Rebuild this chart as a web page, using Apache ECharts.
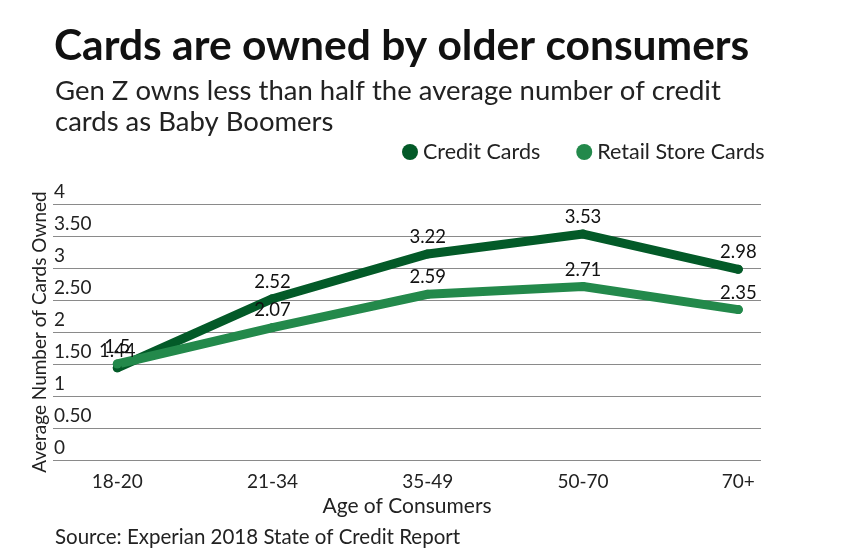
<!DOCTYPE html>
<html>
<head>
<meta charset="utf-8">
<script src="https://cdn.jsdelivr.net/npm/echarts@6/dist/echarts.min.js"></script>
<style>
html,body{margin:0;padding:0;background:#fff;}
#chart{width:844px;height:550px;}
</style>
</head>
<body>
<div id="chart"></div>
<script>
var categories = ['18-20', '21-34', '35-49', '50-70', '70+'];
var creditCards = [1.44, 2.52, 3.22, 3.53, 2.98];
var retailStoreCards = [1.5, 2.07, 2.59, 2.71, 2.35];
var yTickLabels = ['0', '0.50', '1', '1.50', '2', '2.50', '3', '3.50', '4'];

var FONT = 'Lato';
function toPairs(arr) { return arr.map(function (v, i) { return [i, v]; }); }

var chart = echarts.init(document.getElementById('chart'));
chart.setOption({
  backgroundColor: '#ffffff',
  animation: false,
  textStyle: { fontFamily: FONT },
  title: [
    { text: 'Cards are owned by older consumers', left: 49, top: 20,
      textStyle: { fontFamily: FONT, fontSize: 42.5, fontWeight: 'bold', color: '#111' } },
    { text: 'Gen Z owns less than half the average number of credit\ncards as Baby Boomers', left: 50, top: 71,
      textStyle: { fontFamily: FONT, fontSize: 27.5, fontWeight: 'normal', color: '#222', lineHeight: 31 } },
    { text: 'Source: Experian 2018 State of Credit Report', left: 50, top: 522,
      textStyle: { fontFamily: FONT, fontSize: 20.5, fontWeight: 'normal', color: '#222' } }
  ],
  legend: {
    left: 397, top: 136, icon: 'circle', itemWidth: 16, itemHeight: 16, itemGap: 36,
    textStyle: { fontFamily: FONT, fontSize: 21.5, color: '#222' },
    data: ['Credit Cards', 'Retail Store Cards']
  },
  grid: { left: 53, right: 83, top: 204, bottom: 90, containLabel: false },
  xAxis: {
    type: 'value', min: -0.414, max: 4.146,
    name: 'Age of Consumers', nameLocation: 'middle', nameGap: 36,
    nameTextStyle: { fontFamily: FONT, fontSize: 21, color: '#222' },
    axisLine: { show: false }, axisTick: { show: false }, splitLine: { show: false },
    axisLabel: {
      customValues: [0, 1, 2, 3, 4], margin: 12,
      fontFamily: FONT, fontSize: 19, color: '#222',
      formatter: function (v) { return categories[Math.round(v)]; }
    }
  },
  yAxis: {
    type: 'value', min: 0, max: 4, interval: 0.5,
    name: 'Average Number of Cards Owned', nameLocation: 'middle', nameRotate: 90, nameGap: 4,
    nameMoveOverlap: false,
    nameTextStyle: { fontFamily: FONT, fontSize: 19, color: '#222' },
    axisLine: { show: false }, axisTick: { show: false },
    splitLine: { lineStyle: { color: '#8a8a8a', width: 1 } },
    axisLabel: {
      inside: true, margin: 1, verticalAlign: 'bottom', align: 'left',
      padding: [0, 0, 3, 0],
      fontFamily: FONT, fontSize: 19, color: '#222',
      formatter: function (v) { return yTickLabels[Math.round(v / 0.5)]; }
    }
  },
  series: [
    { name: 'Credit Cards', type: 'line', data: toPairs(creditCards),
      color: '#035a28', symbol: 'circle', symbolSize: 9,
      lineStyle: { width: 9, cap: 'round', join: 'round', color: '#035a28' },
      itemStyle: { color: '#035a28' },
      label: { show: true, position: 'top', distance: 3, fontFamily: FONT, fontSize: 18.5, color: '#111',
        formatter: function (p) { return String(p.value[1]); } } },
    { name: 'Retail Store Cards', type: 'line', data: toPairs(retailStoreCards),
      color: '#23894b', symbol: 'circle', symbolSize: 9,
      lineStyle: { width: 9, cap: 'round', join: 'round', color: '#23894b' },
      itemStyle: { color: '#23894b' },
      label: { show: true, position: 'top', distance: 3, fontFamily: FONT, fontSize: 18.5, color: '#111',
        formatter: function (p) { return String(p.value[1]); } } }
  ]
});
</script>
</body>
</html>
